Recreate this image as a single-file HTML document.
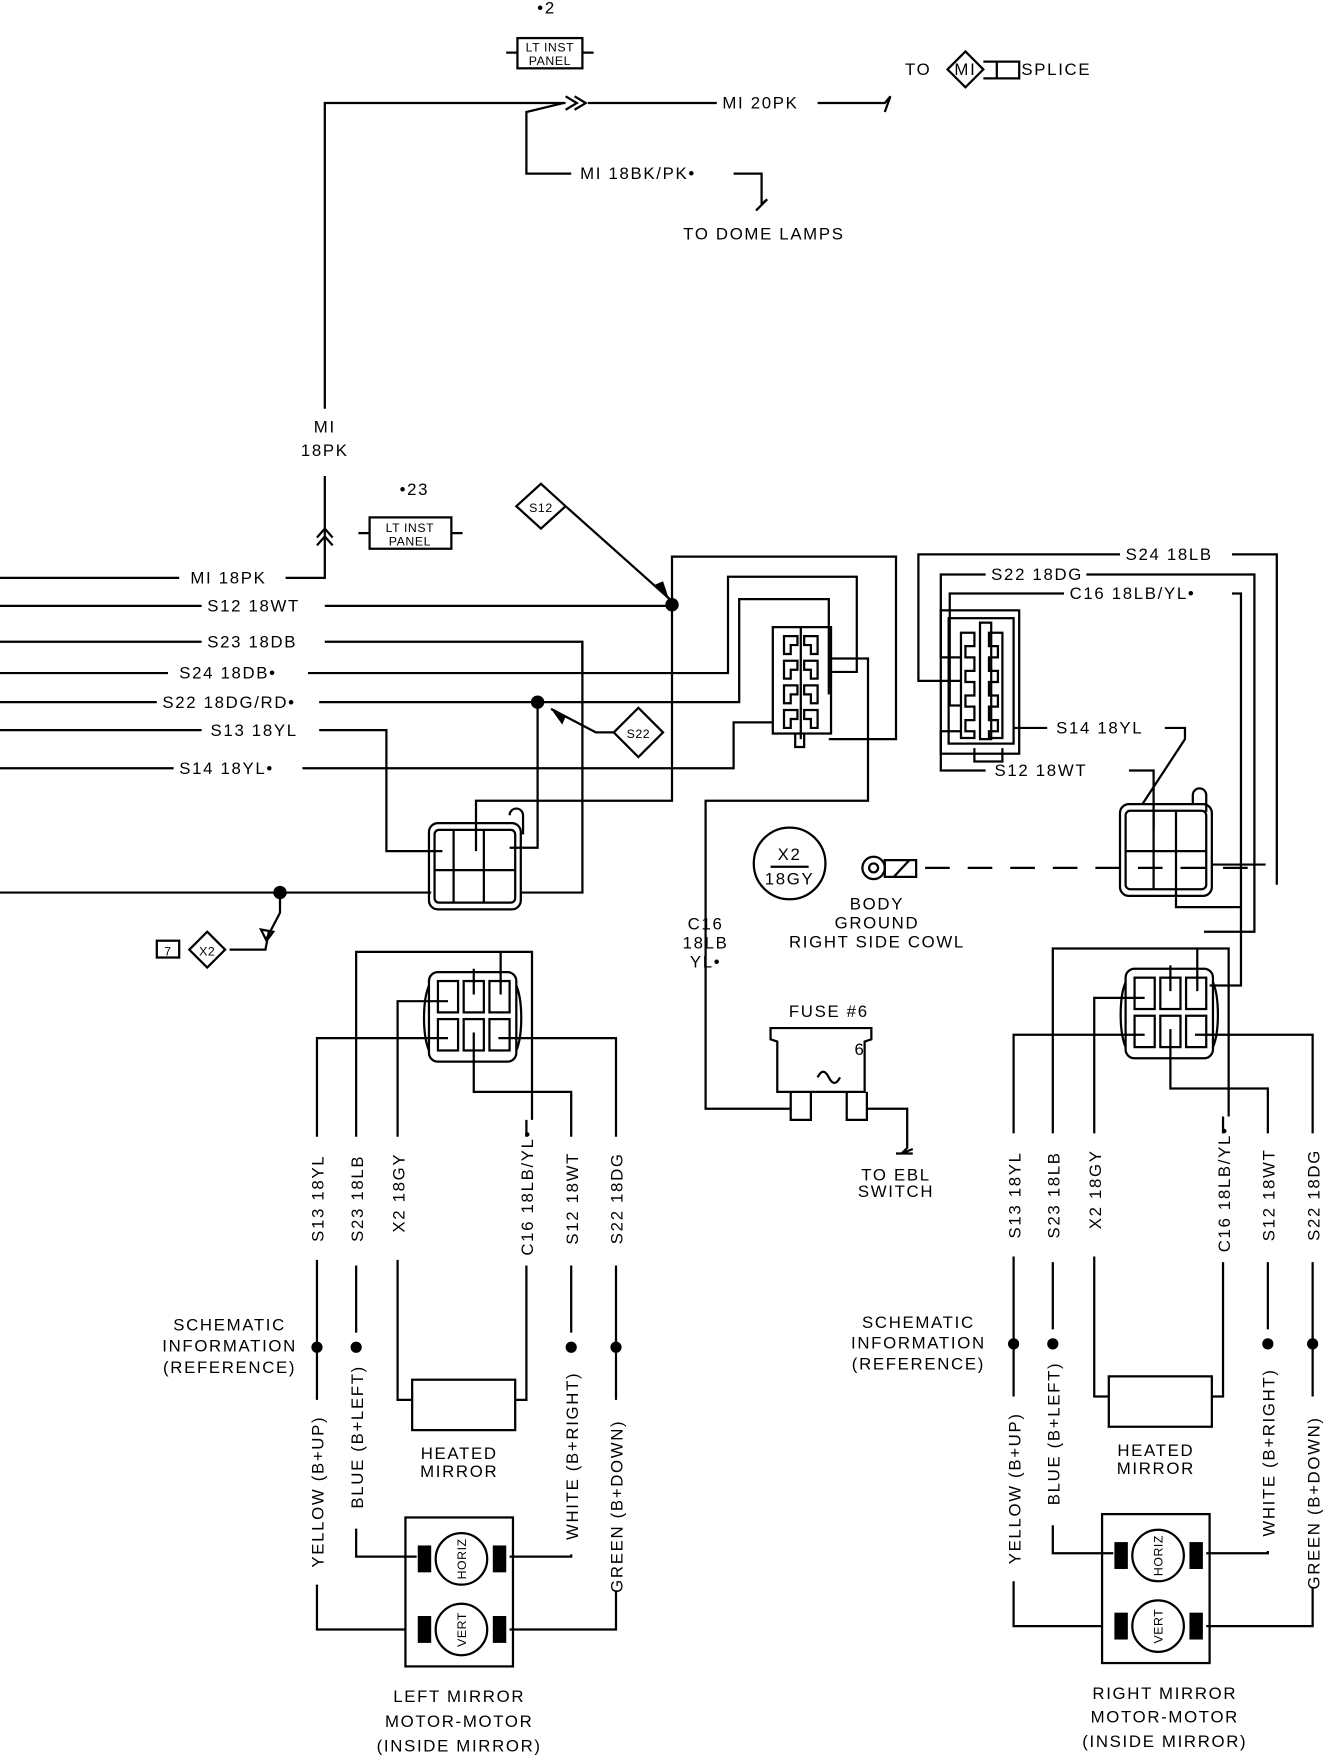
<!DOCTYPE html>
<html><head><meta charset="utf-8"><style>
html,body{margin:0;padding:0;background:#fff;}
svg{display:block;}
text{font-family:"Liberation Sans",sans-serif;font-size:15px;fill:#000;letter-spacing:1.5px;}
.s{font-size:11px;letter-spacing:0.5px;}
</style></head><body>
<svg width="1344" height="1756" viewBox="0 0 1200 1568" preserveAspectRatio="none" xmlns="http://www.w3.org/2000/svg">
<g fill="none" stroke="#000" stroke-width="2">
<!-- top -->
<path d="M452,47 H462 M520,47 H530"/><rect x="462" y="34" width="58" height="27"/>
<path d="M290,365 V92 H505 M525,92 H640 M730,92 H790 l5,-6 -5,14"/>
<path d="M505,86 l10,6 -10,6 M513,86 l10,6 -10,6"/>
<path d="M503,92 L470,100 V155 H510 M655,155 H680 V182 l5,-4 -10,10"/>
<path d="M878,62 L862,46 L846,62 L862,78 Z M878,55 H890 V70 H878 M890,55 H910 V70 H890"/>
<!-- MI 18PK vertical -->
<path d="M290,425 V516 H255 M283,480 l7,-8 7,8 M283,487 l7,-8 7,8"/>
<path d="M320,476 H330 M403,476 H413"/><rect x="330" y="462" width="73" height="28"/>
<!-- S12 diamond -->
<path d="M483,432 L505,452 L483,472 L461,452 Z M505,452 L598,535"/>
<!-- left wires -->
<path d="M0,516 H160 M0,541 H180 M290,541 H600 M0,573 H180 M290,573 H520 V797 H465 M0,601 H150 M275,601 H650 V515 H765 V600 H740 M0,627 H140 M285,627 H480 M480,627 H660 V535 H740 V620 M0,652 H180 M285,652 H345 V760 H395 M0,686 H155 M270,686 H655 V645 H690"/>
<path d="M600,540 V497 H800 V660 H740 M480,627 V757 H455 M600,540 V715 H425 V760 M0,797 H385"/>
<path d="M520,575 V600"/>
<!-- S22 diamond -->
<path d="M570,632 L548,654 L570,676 L592,654 Z M548,654 L532,654 L492,633"/>
<!-- left connector top -->
<rect x="690" y="560" width="52" height="95"/>
<path d="M700,568 h12 v8 h-6 v8 h-6 z M700,590 h12 v8 h-6 v8 h-6 z M700,612 h12 v8 h-6 v8 h-6 z M700,634 h12 v8 h-6 v8 h-6 z M730,568 h-12 v8 h6 v8 h6 z M730,590 h-12 v8 h6 v8 h6 z M730,612 h-12 v8 h6 v8 h6 z M730,634 h-12 v8 h6 v8 h6 z M715,560 v100 M710,655 v12 h8 v-12 M740,588 H775 V715 H630 V990 H705"/>
<!-- left mid connector -->
<rect x="383" y="735" width="82" height="77" rx="8"/><rect x="388" y="741" width="72" height="65" rx="4"/>
<path d="M405,741 V806 M432,741 V806 M388,777 H460 M455,728 a6,6 0 0 1 12,0 V745"/>
<!-- X2 -->
<path d="M250,797 V815 L238,838 M233,830 l5,10 6,-8 z M205,848 H237 L240,832"/>
<path d="M185,832 L169,848 L185,864 L201,848 Z"/><rect x="140" y="840" width="20" height="15"/>
<!-- ground -->
<circle cx="705" cy="771" r="32"/><path d="M688,774 H722"/>
<circle cx="780" cy="775" r="10"/><circle cx="780" cy="775" r="4"/><path d="M790,768 H818 V783 H790 Z M798,783 L812,768"/>
<path d="M826,775 H1130" stroke-dasharray="22,16"/>
<!-- fuse -->
<path d="M688,928 V918 H778 V928 L772,930 V975 H694 V930 Z M706,975 V1000 H724 V975 M756,975 V1000 H774 V975 M730,962 q5,-10 10,0 q5,10 10,0"/>
<path d="M774,990 H810 V1025 l-5,5 10,-4 M800,1030 H815"/>
<!-- right top connector -->
<rect x="840" y="545" width="70" height="128"/><rect x="847" y="552" width="58" height="112"/>
<rect x="875" y="556" width="10" height="104"/>
<path d="M858,565 h12 v12 h-8 v10 h8 v12 h-8 v10 h8 v12 h-8 v10 h8 v12 h-8 v10 h8 v6 h-12 z M895,565 h-12 v12 h8 v10 h-8 v12 h8 v10 h-8 v12 h8 v10 h-8 v12 h8 v10 h-8 v6 h12 z M870,668 V680 H895 V668"/>
<path d="M1000,495 H820 V608 H858 M1100,495 H1140 V790 M880,513 H840 V587 H858 M970,513 H1120 V832 H1075 M950,530 H848 V630 H858 M1100,530 H1108 V880 H1080 M905,650 H935 M1040,650 H1058 V660 L1020,718 M880,688 H840 V653 H858 M1008,688 H1030 V740"/>
<rect x="1000" y="718" width="82" height="82" rx="8"/><rect x="1005" y="724" width="72" height="70" rx="4"/>
<path d="M1030,724 V794 M1050,724 V794 M1005,760 H1077 M1065,718 V710 a6,6 0 0 1 12,0 V725 M1050,794 V810 H1108 M1082,772 H1130"/>
</g>
<g fill="#000">
<circle cx="600" cy="540" r="6"/><circle cx="480" cy="627" r="6"/><circle cx="250" cy="797" r="6"/>
<path d="M598,537 L585,522 L592,519 Z M492,633 L505,640 L502,647 Z"/>
</g>

<!-- mirror units -->
<g id="mir" fill="none" stroke="#000" stroke-width="2">
<rect x="383" y="868" width="78" height="80" rx="8"/>
<path d="M383,880 a10,35 0 0 0 0,58 M461,880 a10,35 0 0 1 0,58"/>
<rect x="391" y="876" width="18" height="28"/><rect x="414" y="876" width="18" height="28"/><rect x="437" y="876" width="18" height="28"/>
<rect x="391" y="910" width="18" height="28"/><rect x="414" y="910" width="18" height="28"/><rect x="437" y="910" width="18" height="28"/>
<path d="M283,1015 V927 H400 M318,1015 V850 H475 V1000 M355,1015 V894 H400 M423,865 V888 M447,850 V888 M423,922 V975 H510 V1015 M445,927 H550 V1015 M470,1000 V1015"/>
<path d="M283,1125 V1250 M318,1130 V1190 M355,1125 V1250 H368 M470,1130 V1250 H460 M510,1130 V1190 M550,1130 V1250"/>
<rect x="368" y="1232" width="92" height="45"/>
<path d="M283,1415 V1455 H362 M318,1365 V1390 H372 M510,1388 V1390 H455 M550,1420 V1455 H455"/>
<rect x="362" y="1355" width="96" height="133"/>
<circle cx="412" cy="1392" r="23"/><circle cx="412" cy="1455" r="23"/>
</g>
<g id="mirf" fill="#000">
<rect x="373" y="1380" width="12" height="24"/><rect x="440" y="1380" width="12" height="24"/>
<rect x="373" y="1443" width="12" height="24"/><rect x="440" y="1443" width="12" height="24"/>
<circle cx="283" cy="1203" r="5"/><circle cx="318" cy="1203" r="5"/><circle cx="510" cy="1203" r="5"/><circle cx="550" cy="1203" r="5"/>
</g>
<g id="mirt">
<text transform="translate(289,1070) rotate(-90)" text-anchor="middle">S13 18YL</text>
<text transform="translate(324,1070) rotate(-90)" text-anchor="middle">S23 18LB</text>
<text transform="translate(361,1065) rotate(-90)" text-anchor="middle">X2 18GY</text>
<text transform="translate(476,1065) rotate(-90)" text-anchor="middle">C16 18LB/YL•</text>
<text transform="translate(516,1070) rotate(-90)" text-anchor="middle">S12 18WT</text>
<text transform="translate(556,1070) rotate(-90)" text-anchor="middle">S22 18DG</text>
<text transform="translate(289,1332) rotate(-90)" text-anchor="middle">YELLOW (B+UP)</text>
<text transform="translate(324,1283) rotate(-90)" text-anchor="middle">BLUE (B+LEFT)</text>
<text transform="translate(516,1300) rotate(-90)" text-anchor="middle">WHITE (B+RIGHT)</text>
<text transform="translate(556,1345) rotate(-90)" text-anchor="middle">GREEN (B+DOWN)</text>
<text x="410" y="1303" text-anchor="middle">HEATED</text>
<text x="410" y="1319" text-anchor="middle">MIRROR</text>
<text class="s" transform="translate(412,1392) rotate(-90)" text-anchor="middle" dy="4">HORIZ</text>
<text class="s" transform="translate(412,1455) rotate(-90)" text-anchor="middle" dy="4">VERT</text>
</g>
<use href="#mir" transform="translate(622,-3)"/>
<use href="#mirf" transform="translate(622,-3)"/>
<use href="#mirt" transform="translate(622,-3)"/>

<text x="488" y="12" text-anchor="middle">•2</text>
<text class="s" x="491" y="46" text-anchor="middle">LT INST</text>
<text class="s" x="491" y="58" text-anchor="middle">PANEL</text>
<text x="645" y="97">MI 20PK</text>
<text x="808" y="67">TO</text><text x="862" y="67" text-anchor="middle">MI</text><text x="912" y="67">SPLICE</text>
<text x="518" y="160">MI 18BK/PK•</text>
<text x="610" y="214">TO DOME LAMPS</text>
<text x="290" y="386" text-anchor="middle">MI</text>
<text x="290" y="407" text-anchor="middle">18PK</text>
<text x="370" y="442" text-anchor="middle">•23</text>
<text class="s" x="366" y="475" text-anchor="middle">LT INST</text>
<text class="s" x="366" y="487" text-anchor="middle">PANEL</text>
<text x="483" y="457" text-anchor="middle" class="s">S12</text>
<text x="570" y="659" text-anchor="middle" class="s">S22</text>
<text x="170" y="521">MI 18PK</text>
<text x="185" y="546">S12 18WT</text>
<text x="185" y="578">S23 18DB</text>
<text x="160" y="606">S24 18DB•</text>
<text x="145" y="632">S22 18DG/RD•</text>
<text x="188" y="657">S13 18YL</text>
<text x="160" y="691">S14 18YL•</text>
<text x="150" y="853" class="s" text-anchor="middle">7</text>
<text x="185" y="853" class="s" text-anchor="middle">X2</text>
<text x="705" y="768" text-anchor="middle">X2</text>
<text x="705" y="790" text-anchor="middle">18GY</text>
<text x="783" y="812" text-anchor="middle">BODY</text>
<text x="783" y="829" text-anchor="middle">GROUND</text>
<text x="783" y="846" text-anchor="middle">RIGHT SIDE COWL</text>
<text x="630" y="830" text-anchor="middle">C16</text>
<text x="630" y="847" text-anchor="middle">18LB</text>
<text x="630" y="864" text-anchor="middle">YL•</text>
<text x="740" y="908" text-anchor="middle">FUSE #6</text>
<text x="763" y="942">6</text>
<text x="800" y="1054" text-anchor="middle">TO EBL</text>
<text x="800" y="1069" text-anchor="middle">SWITCH</text>
<text x="1005" y="500">S24 18LB</text>
<text x="885" y="518">S22 18DG</text>
<text x="955" y="535">C16 18LB/YL•</text>
<text x="943" y="655">S14 18YL</text>
<text x="888" y="693">S12 18WT</text>
<text x="205" y="1188" text-anchor="middle">SCHEMATIC</text>
<text x="205" y="1207" text-anchor="middle">INFORMATION</text>
<text x="205" y="1226" text-anchor="middle">(REFERENCE)</text>
<text x="820" y="1186" text-anchor="middle">SCHEMATIC</text>
<text x="820" y="1204" text-anchor="middle">INFORMATION</text>
<text x="820" y="1223" text-anchor="middle">(REFERENCE)</text>
<text x="410" y="1520" text-anchor="middle">LEFT MIRROR</text>
<text x="410" y="1542" text-anchor="middle">MOTOR-MOTOR</text>
<text x="410" y="1564" text-anchor="middle">(INSIDE MIRROR)</text>
<text x="1040" y="1517" text-anchor="middle">RIGHT MIRROR</text>
<text x="1040" y="1538" text-anchor="middle">MOTOR-MOTOR</text>
<text x="1040" y="1560" text-anchor="middle">(INSIDE MIRROR)</text>
</svg>
</body></html>
